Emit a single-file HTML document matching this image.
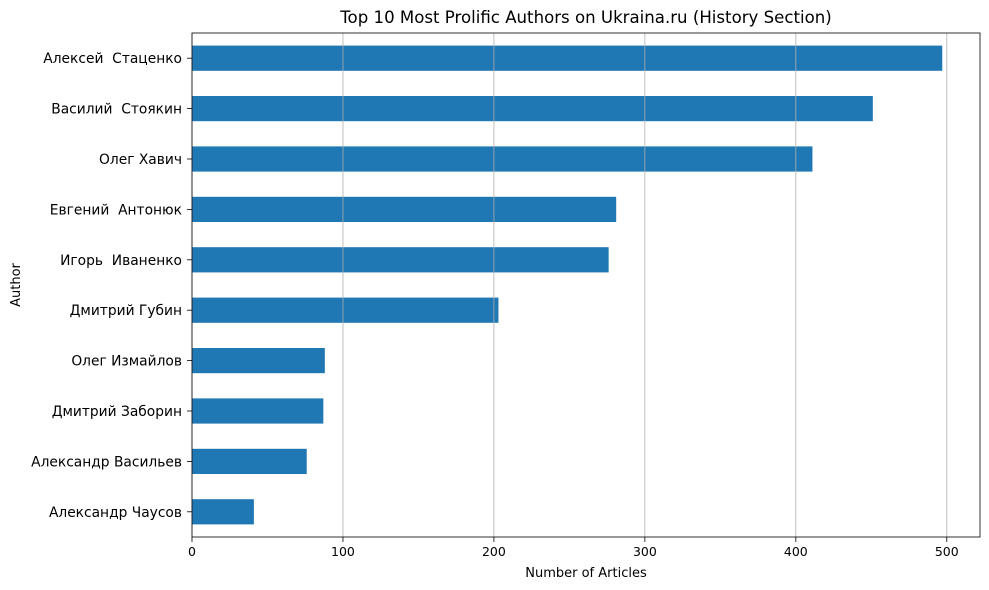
<!DOCTYPE html>
<html><head><meta charset="utf-8"><style>
body{margin:0;background:#fff;}
svg{display:block;font-family:"DejaVu Sans","Liberation Sans",sans-serif;}
</style></head><body>
<svg id="chart" width="989" height="590" viewBox="0 0 989 590">
<text x="586" y="23" font-size="16.6" text-anchor="middle" fill="#000">Top 10 Most Prolific Authors on Ukraina.ru (History Section)</text>
<g id="bars"></g><g id="grid"></g><g id="axes"></g>
<text x="586" y="577" font-size="13" text-anchor="middle">Number of Articles</text>
<text x="20" y="285" font-size="13" text-anchor="middle" transform="rotate(-90 20 285)">Author</text>
</svg>
<script>
const authors=["Алексей  Стаценко","Василий  Стоякин","Олег Хавич","Евгений  Антонюк","Игорь  Иваненко","Дмитрий Губин","Олег Измайлов","Дмитрий Заборин","Александр Васильев","Александр Чаусов"];
const counts=[497,451,411,281,276,203,88,87,76,41];
const xTicks=[0,100,200,300,400,500];
const L=192,R=980,T=33,B=537,xMax=522;
const NS="http://www.w3.org/2000/svg";
const x=v=>L+v/xMax*(R-L);
const slot=(B-T)/authors.length;
const y=i=>T+slot*(i+0.5);
function mk(t,a,p){const e=document.createElementNS(NS,t);for(const k in a)e.setAttribute(k,a[k]);p.appendChild(e);return e;}
const grid=document.getElementById('grid'),bars=document.getElementById('bars'),axes=document.getElementById('axes');
xTicks.forEach(v=>{
 const g=mk('line',{x1:x(v),x2:x(v),y1:T,y2:B,stroke:'#b0b0b0','stroke-width':0.8},grid);
 
 
 const t=mk('line',{x1:x(v),x2:x(v),y1:B,y2:B+5,stroke:'#000','stroke-width':0.8},axes);
 
 
 const l=mk('text',{x:x(v),y:B+19,'font-size':12.5,'text-anchor':'middle'},axes);l.textContent=v;
 
 
});
authors.forEach((a,i)=>{
 const h=slot*0.5;
 const r=mk('rect',{x:L,y:y(i)-h/2,width:x(counts[i])-L,height:h,fill:'#1f77b4'},bars);
 
 
 const t=mk('line',{x1:L-5,x2:L,y1:y(i),y2:y(i),stroke:'#000','stroke-width':0.8},axes);
 
 
 const l=mk('text',{x:L-10,y:y(i)+5,'font-size':13.8,'text-anchor':'end',style:'white-space:pre'},axes);l.textContent=a;
 
 
});
const f=mk('rect',{x:L,y:T,width:R-L,height:B-T,fill:'none',stroke:'#000','stroke-width':0.8},axes);


</script>
</body></html>
